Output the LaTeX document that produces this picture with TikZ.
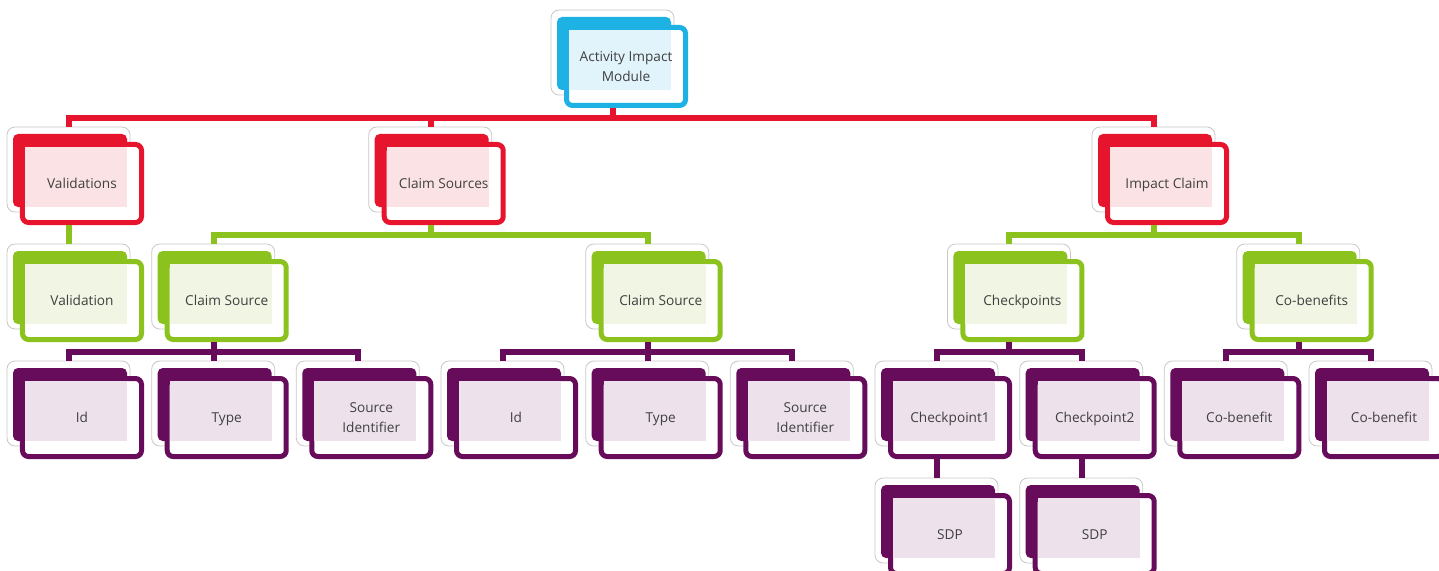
\documentclass[tikz,border=0pt]{standalone}
\usepackage{fontspec}
\setmainfont{Open Sans}
\definecolor{cblue}{RGB}{30,178,228}
\definecolor{tblue}{RGB}{225,243,251}
\definecolor{cred}{RGB}{230,20,45}
\definecolor{tred}{RGB}{251,226,228}
\definecolor{cgreen}{RGB}{140,194,30}
\definecolor{tgreen}{RGB}{240,245,228}
\definecolor{cpurple}{RGB}{102,12,90}
\definecolor{tpurple}{RGB}{237,226,236}
\definecolor{ctext}{RGB}{64,64,64}
\definecolor{cthin}{RGB}{200,200,200}
\tikzset{
  outerbox/.style={draw=cthin, line width=0.8bp, fill=white, rounded corners=8bp},
  backcard/.style={rounded corners=5bp},
  frontcard/.style={rectangle, fill=white, line width=5bp, rounded corners=6bp,
    minimum width=119bp, minimum height=78bp, inner sep=0pt},
  cardtext/.style={font=\fontsize{13.7}{20}\selectfont, text=ctext, align=center, inner sep=0pt},
  conn/.style={line width=6bp, line join=miter, line cap=butt},
}
% #1 name, #2 fx, #3 fy, #4 main colour, #5 tint colour, #6 text
\newcommand\card[6]{%
  \begin{scope}[shift={(#2,-#3)}]
    \draw[outerbox] (-13,15) rectangle (110,-70);
    \fill[#4, backcard] (-7,8) rectangle (107,-65);
    \node[frontcard, draw=#4] (#1) at (62,-41.5) {};
    \fill[#5] (5,-5) rectangle (107,-65);
    \coordinate (#1-top) at (49,15);
    \coordinate (#1-bot) at (49,-83);
    \node[cardtext] (#1-lbl) at (62,-42.5) {\strut#6};
  \end{scope}}
\begin{document}
\begin{tikzpicture}[x=1bp,y=1bp]
\useasboundingbox (0,0) rectangle (1439,-571);
\clip (0,0) rectangle (1439,-571);
% row 0
\card{act}{564}{25}{cblue}{tblue}{Activity Impact\\\strut Module}
% row 1
\card{val}{20}{142}{cred}{tred}{Validations}
\card{css}{381.7}{142}{cred}{tred}{Claim Sources}
\card{ic}{1105}{142}{cred}{tred}{Impact Claim}
% row 2
\card{valn}{20}{259}{cgreen}{tgreen}{Validation}
\card{csa}{164.7}{259}{cgreen}{tgreen}{Claim Source}
\card{csb}{598.7}{259}{cgreen}{tgreen}{Claim Source}
\card{chk}{960.4}{259}{cgreen}{tgreen}{Checkpoints}
\card{cob}{1249.7}{259}{cgreen}{tgreen}{Co-benefits}
% row 3
\card{ida}{20}{376}{cpurple}{tpurple}{Id}
\card{typa}{164.7}{376}{cpurple}{tpurple}{Type}
\card{sia}{309.3}{376}{cpurple}{tpurple}{Source\\\strut Identifier}
\card{idb}{454}{376}{cpurple}{tpurple}{Id}
\card{typb}{598.7}{376}{cpurple}{tpurple}{Type}
\card{sib}{743.3}{376}{cpurple}{tpurple}{Source\\\strut Identifier}
\card{cpa}{888}{376}{cpurple}{tpurple}{Checkpoint1}
\card{cpb}{1032.7}{376}{cpurple}{tpurple}{Checkpoint2}
\card{cba}{1177.3}{376}{cpurple}{tpurple}{Co-benefit}
\card{cbb}{1322}{376}{cpurple}{tpurple}{Co-benefit}
% row 4
\card{sdpa}{888}{493}{cpurple}{tpurple}{SDP}
\card{sdpb}{1032.7}{493}{cpurple}{tpurple}{SDP}
% connectors
\foreach \c in {val,css,ic} \draw[conn, cred] (act-bot) -- ++(0,-10) -| (\c-top);
\draw[conn, cgreen] (val-bot) -- (valn-top);
\foreach \c in {csa,csb} \draw[conn, cgreen] (css-bot) -- ++(0,-10) -| (\c-top);
\foreach \c in {chk,cob} \draw[conn, cgreen] (ic-bot) -- ++(0,-10) -| (\c-top);
\foreach \c in {ida,typa,sia} \draw[conn, cpurple] (csa-bot) -- ++(0,-10) -| (\c-top);
\foreach \c in {idb,typb,sib} \draw[conn, cpurple] (csb-bot) -- ++(0,-10) -| (\c-top);
\foreach \c in {cpa,cpb} \draw[conn, cpurple] (chk-bot) -- ++(0,-10) -| (\c-top);
\foreach \c in {cba,cbb} \draw[conn, cpurple] (cob-bot) -- ++(0,-10) -| (\c-top);
\draw[conn, cpurple] (cpa-bot) -- (sdpa-top);
\draw[conn, cpurple] (cpb-bot) -- (sdpb-top);
\end{tikzpicture}
\end{document}
